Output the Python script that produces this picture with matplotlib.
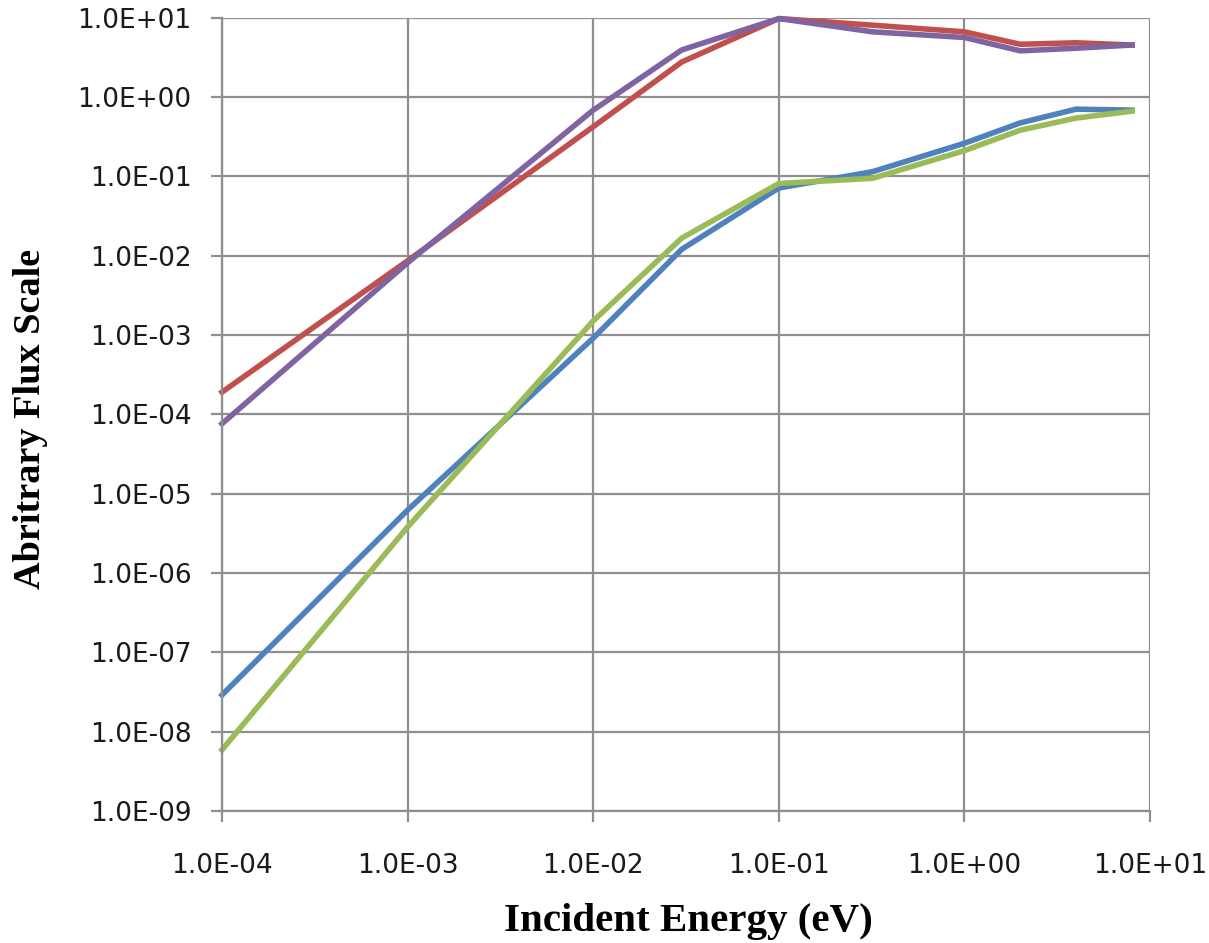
import matplotlib
matplotlib.use("Agg")
import matplotlib.pyplot as plt
from matplotlib.ticker import FixedLocator, NullLocator

energy = [1e-4, 1e-3, 1e-2, 3.0e-2, 1e-1, 3.2e-1, 1.0, 2.0, 4.0, 8.0]

series_blue = [2.9e-8, 6.2e-6, 9.1e-4, 1.2e-2, 7.1e-2, 0.114, 0.26, 0.47, 0.70, 0.68]
series_red = [1.9e-4, 8.6e-3, 0.42, 2.75, 9.7, 8.0, 6.6, 4.6, 4.8, 4.5]
series_green = [5.9e-9, 3.8e-6, 1.5e-3, 1.66e-2, 8.1e-2, 9.4e-2, 0.21, 0.38, 0.54, 0.66]
series_purple = [7.6e-5, 8.1e-3, 0.68, 3.9, 9.7, 6.6, 5.6, 3.8, 4.1, 4.5]

x_ticks = [1e-4, 1e-3, 1e-2, 1e-1, 1e0, 1e1]
x_tick_labels = ["1.0E-04", "1.0E-03", "1.0E-02", "1.0E-01", "1.0E+00", "1.0E+01"]
y_ticks = [1e-9, 1e-8, 1e-7, 1e-6, 1e-5, 1e-4, 1e-3, 1e-2, 1e-1, 1e0, 1e1]
y_tick_labels = ["1.0E-09", "1.0E-08", "1.0E-07", "1.0E-06", "1.0E-05", "1.0E-04",
                 "1.0E-03", "1.0E-02", "1.0E-01", "1.0E+00", "1.0E+01"]

x_label = "Incident Energy (eV)"
y_label = "Abritrary Flux Scale"

colors = ["#4F81BD", "#C0504D", "#9BBB59", "#8064A2"]

fig = plt.figure(figsize=(12.09, 9.43), dpi=100)
ax = fig.add_axes([222 / 1209, 1 - 811 / 943, (1150 - 222) / 1209, (811 - 17.5) / 943])

for ys, c in zip([series_blue, series_red, series_green, series_purple], colors):
    ax.plot(energy, ys, color=c, lw=4.0, solid_joinstyle="round", clip_on=False)

ax.set_xscale("log")
ax.set_yscale("log")
ax.set_xlim(1e-4, 1e1)
ax.set_ylim(1e-9, 1e1)

ax.xaxis.set_major_locator(FixedLocator(x_ticks))
ax.yaxis.set_major_locator(FixedLocator(y_ticks))
ax.xaxis.set_minor_locator(NullLocator())
ax.yaxis.set_minor_locator(NullLocator())
ax.set_xticklabels(x_tick_labels)
ax.set_yticklabels(y_tick_labels)

grid_color = "#8f8f8f"
ax.grid(True, color=grid_color, lw=1.6)
ax.set_axisbelow(True)
for s in ["top", "right"]:
    ax.spines[s].set_visible(False)
for s in ["left", "bottom"]:
    ax.spines[s].set_color(grid_color)
    ax.spines[s].set_linewidth(1.6)

ax.tick_params(axis="both", which="major", direction="out", length=8, width=1.6,
               color=grid_color, labelsize=19, labelcolor="#1a1a1a")
ax.tick_params(axis="x", pad=22)
ax.tick_params(axis="y", pad=14)
for lab in ax.get_xticklabels() + ax.get_yticklabels():
    lab.set_family("DejaVu Sans")

fig.text(688 / 1209, 1 - 922 / 943, x_label, ha="center", va="center",
         family="Liberation Serif", weight="bold", fontsize=29.5)
fig.text(31 / 1209, 1 - 419 / 943, y_label, ha="center", va="center", rotation=90,
         family="Liberation Serif", weight="bold", fontsize=27.5)

fig.savefig("out.png", dpi=100)
